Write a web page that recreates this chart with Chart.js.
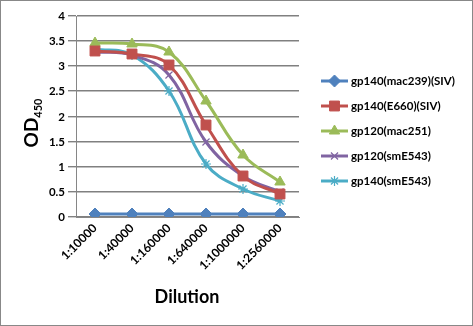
<!DOCTYPE html>
<html>
<head>
<meta charset="utf-8">
<script src="https://cdn.jsdelivr.net/npm/chart.js@4"></script>
<style>
  html, body { margin: 0; padding: 0; background: #fff; }
  #wrap { width: 471px; height: 324px; border: 1px solid #888; position: relative; }
</style>
</head>
<body>
<div id="wrap"><canvas id="elisaChart" width="471" height="324"></canvas></div>
<script>
// Data
const dilutions = ['1:10000', '1:40000', '1:160000', '1:640000', '1:1000000', '1:2560000'];
const yTickStep = 0.5;
const seriesNames = ['gp140(mac239)(SIV)', 'gp140(E660)(SIV)', 'gp120(mac251)', 'gp120(smE543)', 'gp140(smE543)'];
const gp140mac239 = [0.05, 0.05, 0.05, 0.05, 0.05, 0.05];
const gp140E660 = [3.30, 3.25, 3.02, 1.83, 0.81, 0.46];
const gp120mac251 = [3.46, 3.44, 3.28, 2.31, 1.23, 0.69];
const gp120smE543 = [3.28, 3.22, 2.82, 1.50, 0.82, 0.50];
const gp140smE543 = [3.35, 3.22, 2.51, 1.06, 0.55, 0.31];

const fontFam = 'Lato, "Open Sans", sans-serif';
const colors = ['#4F81BD', '#C0504D', '#9BBB59', '#8064A2', '#4BACC6'];
const styles = ['rectRot', 'rect', 'triangle', 'crossRot', 'star'];
const radii = [6, 7, 6, 5, 5];
const allData = [gp140mac239, gp140E660, gp120mac251, gp120smE543, gp140smE543];

const datasets = allData.map((d, i) => ({
    label: seriesNames[i],
    data: d,
    borderColor: colors[i],
    backgroundColor: colors[i],
    borderWidth: 3,
    pointStyle: styles[i],
    pointRadius: radii[i],
    pointBorderWidth: (styles[i] === 'crossRot' || styles[i] === 'star') ? 1.2 : 1,
    tension: 0.4,
    fill: false
}));

// legend + axis titles drawn by hand (subscript, line+marker samples)
const extras = {
    id: 'extras',
    afterDraw(chart) {
        const ctx = chart.ctx;
        ctx.save();
        const ys = [81, 106, 131, 156, 181];
        datasets.forEach((ds, i) => {
            const y = ys[i] - 1;
            ctx.strokeStyle = ds.borderColor;
            ctx.lineWidth = 3;
            ctx.beginPath();
            ctx.moveTo(320, y);
            ctx.lineTo(347, y);
            ctx.stroke();
            ctx.fillStyle = ds.backgroundColor;
            ctx.lineWidth = ds.pointBorderWidth;
            Chart.helpers.drawPoint(ctx, {
                pointStyle: ds.pointStyle,
                radius: ds.pointRadius,
                rotation: 0,
                borderWidth: ds.pointBorderWidth
            }, 333.5, y);
            ctx.fillStyle = '#000';
            ctx.font = 'bold 11.5px ' + fontFam;
            ctx.textAlign = 'left';
            ctx.textBaseline = 'middle';
            ctx.fillText(ds.label, 350, y);
        });

        // y title OD450
        ctx.translate(37, 122);
        ctx.rotate(-Math.PI / 2);
        ctx.fillStyle = '#000';
        ctx.textBaseline = 'alphabetic';
        ctx.font = 'bold 19px ' + fontFam;
        const wOD = ctx.measureText('OD').width;
        ctx.font = 'bold 11px ' + fontFam;
        const wSub = ctx.measureText('450').width;
        const x0 = -(wOD + wSub) / 2;
        ctx.font = 'bold 19px ' + fontFam;
        ctx.textAlign = 'left';
        ctx.fillText('OD', x0, 0);
        ctx.font = 'bold 11px ' + fontFam;
        ctx.fillText('450', x0 + wOD, 4);
        ctx.restore();

        ctx.save();
        ctx.fillStyle = '#000';
        ctx.font = 'bold 18px ' + fontFam;
        ctx.textAlign = 'center';
        ctx.textBaseline = 'middle';
        ctx.fillText('Dilution', 186, 296);
        ctx.restore();
    }
};

const ctx = document.getElementById('elisaChart').getContext('2d');
new Chart(ctx, {
    type: 'line',
    data: { labels: dilutions, datasets: datasets },
    plugins: [extras],
    options: {
        responsive: false,
        animation: false,
        layout: { padding: { left: 0, right: 173, top: 15, bottom: 0 } },
        plugins: {
            legend: { display: false },
            tooltip: { enabled: false }
        },
        scales: {
            x: {
                offset: true,
                alignToPixels: true,
                grid: { display: false, drawTicks: false },
                border: { color: '#868686', width: 1 },
                ticks: {
                    color: '#000',
                    font: { family: fontFam, size: 12, weight: 'bold' },
                    minRotation: 45,
                    maxRotation: 45,
                    padding: 4,
                    autoSkip: false
                },
                afterFit(scale) { scale.height = 108; }
            },
            y: {
                min: 0,
                max: 4,
                alignToPixels: true,
                grid: { display: true, color: '#808080', lineWidth: 1.4, tickLength: 8, drawTicks: true },
                border: { display: true, color: '#868686', width: 1 },
                ticks: {
                    stepSize: yTickStep,
                    color: '#000',
                    font: { family: fontFam, size: 11.5, weight: 'bold' },
                    padding: 3,
                    callback: v => String(v)
                },
                afterFit(scale) { scale.width = 75; }
            }
        }
    }
});
</script>
</body>
</html>
